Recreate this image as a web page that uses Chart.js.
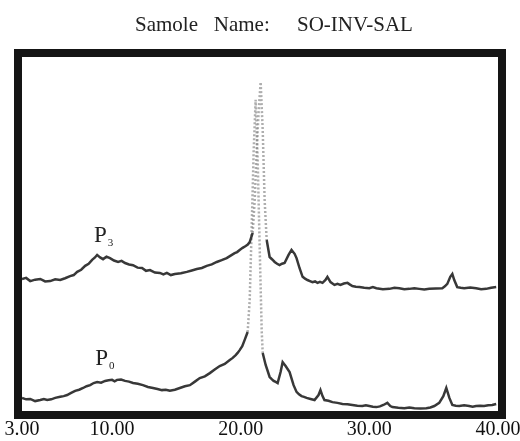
<!DOCTYPE html>
<html>
<head>
<meta charset="utf-8">
<script src="https://cdn.jsdelivr.net/npm/chart.js@4/dist/chart.umd.min.js"></script>
<style>
  html, body { margin: 0; padding: 0; background: #fff; }
  #wrap { width: 520px; height: 441px; }
</style>
</head>
<body>
<div id="wrap"><canvas id="c" width="520" height="441"></canvas></div>
<script>
const twoThetaP3 = [3.00,3.32,3.64,4.02,4.42,4.80,5.19,5.58,5.97,6.35,6.74,7.02,7.29,7.60,7.91,8.18,8.45,8.65,8.84,9.07,9.30,9.57,9.84,10.15,10.47,10.74,11.01,11.32,11.63,11.98,12.33,12.64,12.95,13.33,13.72,13.99,14.26,14.57,14.88,15.35,15.81,16.20,16.59,16.98,17.36,17.75,18.14,18.52,18.91,19.22,19.53,19.72,19.92,20.15,20.39,20.55,20.70,20.93,21.09,21.24,21.40,21.55,21.71,21.86,22.02,22.25,22.45,22.64,22.83,23.02,23.21,23.41,23.72,23.95,24.19,24.34,24.57,24.81,25.00,25.19,25.38,25.58,25.78,25.97,26.16,26.36,26.59,26.74,26.98,27.29,27.52,27.75,28.02,28.30,28.50,28.68,28.95,29.23,29.60,30.00,30.27,30.55,31.05,31.56,31.95,32.33,32.72,33.11,33.50,33.88,34.27,34.66,35.17,35.67,35.87,36.06,36.29,36.45,36.60,36.83,37.10,37.37,37.84,38.30,38.69,39.08,39.47,39.86];
const intensityP3 = [373,376,367,371,373,366,367,372,370,375,381,384,393,399,410,416,427,433,441,434,429,436,432,425,421,424,418,414,412,405,404,396,398,391,390,386,390,384,387,389,393,397,401,404,410,414,421,426,432,439,446,449,455,461,466,470,477,503,596,737,850,929,794,596,483,435,428,421,416,412,416,418,441,455,444,432,404,379,374,370,367,364,366,362,365,362,370,379,364,356,359,356,360,362,357,353,351,350,348,347,350,347,344,345,348,347,344,345,347,345,343,345,346,347,352,359,379,387,370,350,348,347,349,347,344,345,348,350];

const twoThetaP0 = [3.00,3.32,3.64,4.02,4.42,4.70,4.96,5.27,5.58,5.97,6.24,6.51,6.82,7.13,7.44,7.75,8.02,8.30,8.57,8.84,9.15,9.46,9.73,10.00,10.20,10.39,10.70,11.01,11.32,11.63,12.00,12.40,12.79,13.18,13.53,13.88,14.18,14.49,14.88,15.27,15.66,16.05,16.44,16.82,17.21,17.60,17.98,18.37,18.76,19.15,19.38,19.61,19.76,19.92,20.12,20.31,20.54,20.70,20.85,21.01,21.16,21.32,21.48,21.63,21.71,21.94,22.25,22.41,22.56,22.72,22.87,23.10,23.26,23.49,23.80,24.11,24.34,24.53,24.73,24.92,25.12,25.43,25.74,26.05,26.20,26.36,26.51,26.82,27.13,27.52,27.91,28.30,28.68,29.07,29.46,29.73,30.00,30.27,30.55,30.82,31.09,31.40,31.63,31.79,32.25,32.72,33.11,33.50,33.97,34.43,34.74,35.05,35.43,35.75,35.98,36.22,36.45,36.72,36.99,37.37,37.76,38.03,38.30,38.61,38.92,39.24,39.55,39.86];
const intensityP0 = [37,33,34,28,31,34,31,33,37,40,42,45,51,57,60,65,70,73,79,82,80,85,87,88,84,88,89,85,83,79,77,73,68,65,62,59,60,57,60,65,70,73,83,93,98,107,117,127,133,144,150,158,164,172,183,201,223,314,511,737,879,709,455,229,164,130,96,90,85,82,79,110,138,127,110,73,54,47,42,40,37,34,31,45,59,42,31,29,25,23,20,19,17,15,14,16,14,12,11,13,17,23,14,11,9,8,10,8,7,8,10,14,23,42,65,37,17,15,14,16,14,12,14,15,14,16,17,20];

const tickValues = [3, 10, 20, 30, 40];
const titleLeft = 'Samole   Name:';
const titleRight = 'SO-INV-SAL';
const seriesLabels = [
  { main: 'P', sub: '3', x: 8.6, y: 477 },
  { main: 'P', sub: '0', x: 8.7, y: 130 }
];

const toXY = (xs, ys) => xs.map((x, i) => ({ x: x, y: ys[i] }));

const LINE = '#383838';
const isSteep = ctx => {
  const a = ctx.p0.parsed, b = ctx.p1.parsed;
  return Math.abs(b.y - a.y) / Math.max(1e-6, Math.abs(b.x - a.x)) > 300;
};
const steepColor = ctx => isSteep(ctx) ? 'rgba(130,130,130,0.65)' : undefined;
const steepDash = ctx => isSteep(ctx) ? [2, 2] : undefined;

const framePlugin = {
  id: 'frame',
  afterDraw(chart) {
    const { ctx, chartArea: a } = chart;
    ctx.save();
    ctx.strokeStyle = '#151515';
    ctx.lineWidth = 8;
    ctx.strokeRect(a.left - 4, a.top - 4, (a.right - a.left) + 8, (a.bottom - a.top) + 8);
    ctx.restore();
  }
};

const textPlugin = {
  id: 'texts',
  afterDraw(chart) {
    const { ctx } = chart;
    const xs = chart.scales.x, ys = chart.scales.y;
    ctx.save();
    ctx.fillStyle = '#222';
    ctx.textBaseline = 'alphabetic';
    ctx.textAlign = 'left';
    ctx.font = '21px "Liberation Serif", "Times New Roman", serif';
    ctx.fillText(titleLeft, 135, 31);
    ctx.fillText(titleRight, 297, 31);
    seriesLabels.forEach(l => {
      const px = xs.getPixelForValue(l.x);
      const py = ys.getPixelForValue(l.y);
      ctx.font = '23px "Liberation Serif", "Times New Roman", serif';
      ctx.fillText(l.main, px, py);
      const w = ctx.measureText(l.main).width;
      ctx.font = '11px "Liberation Serif", "Times New Roman", serif';
      ctx.fillText(l.sub, px + w + 1, py + 4);
    });
    ctx.restore();
  }
};

new Chart(document.getElementById('c'), {
  type: 'line',
  data: {
    datasets: [
      {
        label: 'P3',
        data: toXY(twoThetaP3, intensityP3),
        borderColor: LINE,
        borderWidth: 2.5,
        pointRadius: 0,
        tension: 0,
        segment: { borderColor: steepColor, borderDash: steepDash }
      },
      {
        label: 'P0',
        data: toXY(twoThetaP0, intensityP0),
        borderColor: LINE,
        borderWidth: 2.5,
        pointRadius: 0,
        tension: 0,
        segment: { borderColor: steepColor, borderDash: steepDash }
      }
    ]
  },
  options: {
    responsive: false,
    animation: false,
    layout: { padding: { left: 22, right: 22, top: 57, bottom: 0 } },
    plugins: {
      legend: { display: false },
      title: { display: false },
      tooltip: { enabled: false }
    },
    scales: {
      x: {
        type: 'linear',
        min: 3,
        max: 40,
        afterBuildTicks: s => { s.ticks = tickValues.map(v => ({ value: v })); },
        afterFit: s => { s.paddingLeft = 0; s.paddingRight = 0; s.height = 30; },
        grid: { display: false, drawTicks: false },
        border: { display: false },
        ticks: {
          padding: 7,
          color: '#111',
          autoSkip: false,
          maxRotation: 0,
          font: { family: '"Liberation Serif", "Times New Roman", serif', size: 20 },
          callback: v => Number(v).toFixed(2)
        }
      },
      y: {
        type: 'linear',
        min: 0,
        max: 1000,
        display: false
      }
    }
  },
  plugins: [framePlugin, textPlugin]
});
</script>
</body>
</html>
